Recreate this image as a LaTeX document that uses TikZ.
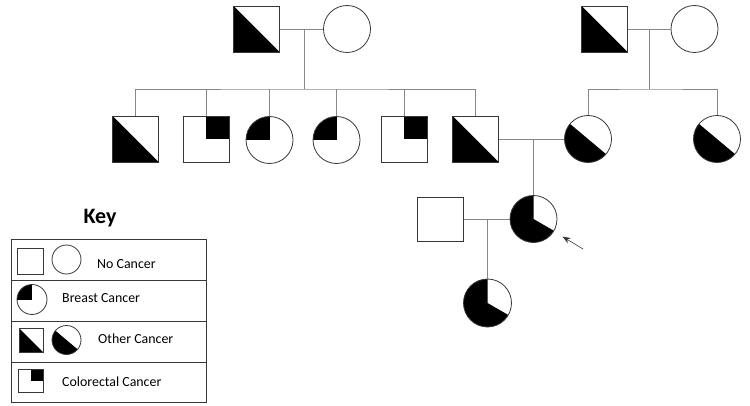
\documentclass[tikz,border=0pt]{standalone}
\usepackage{fontspec}
\setmainfont{Carlito}
\usetikzlibrary{arrows.meta, positioning, calc}
\definecolor{linegray}{RGB}{135,135,135}
\definecolor{edgegray}{RGB}{55,55,55}

\begin{document}
\begin{tikzpicture}[x=1pt, y=1pt,
    sq/.style={draw=edgegray, line width=0.9pt, minimum size=46pt, inner sep=0pt},
    ci/.style={circle, draw=edgegray, line width=0.8pt, minimum size=47pt, inner sep=0pt},
    other/.style={path picture={\fill (path picture bounding box.north west)
        -- (path picture bounding box.south west) -- (path picture bounding box.south east) -- cycle;}},
    colorectal/.style={path picture={\fill (path picture bounding box.center)
        rectangle (path picture bounding box.north east);}},
    breast/.style={path picture={\fill (path picture bounding box.center)
        rectangle (path picture bounding box.north west);}},
    othercirc/.style={path picture={\fill (path picture bounding box.center)
        -- ++(140:40pt) arc[start angle=140, end angle=320, radius=40pt] -- cycle;}},
    mostly/.style={path picture={\fill (path picture bounding box.center)
        -- ++(90:40pt) arc[start angle=90, end angle=330, radius=40pt] -- cycle;}},
    link/.style={draw=linegray, line width=0.8pt},
    keytext/.style={font=\fontsize{13.9}{16}\selectfont, inner sep=0pt, anchor=west}
  ]
  \useasboundingbox (0,0) rectangle (750,405);

  % first generation
  \node[sq, other] (gp1) at (256.5,376) {};
  \node[ci] (gm1) at (347,376) {};
  \node[sq, other] (gp2) at (604.5,376) {};
  \node[ci] (gm2) at (694.5,376) {};

  % second generation
  \node[sq, other] (s1) at (135.5,266) {};
  \node[sq, colorectal] (s2) at (206,266) {};
  \node[ci, breast] (s3) at (269.5,265) {};
  \node[ci, breast] (s4) at (336.5,265) {};
  \node[sq, colorectal] (s5) at (404,266) {};
  \node[sq, other] (s6) at (475.5,266) {};
  \node[ci, othercirc] (m7) at (588,266) {};
  \node[ci, othercirc] (m8) at (717,266) {};

  % third and fourth generation
  \node[sq, minimum height=44pt] (partner) at (440.5,186) {};
  \node[ci, mostly] (pb) at (533.5,186) {};
  \node[ci, mostly, minimum size=48pt] (ch) at (487.5,102) {};
  \coordinate (arrtail) at (583,156);

  \coordinate (sibA) at (304,316);
  \coordinate (sibB) at (649,316);
  \draw[link] (gp1) -- (gm1);
  \draw[link] (sibA |- gp1) -- (sibA);
  \draw[link] (s1.north) |- (sibA) -- (s6 |- sibA) -- (s6.north);
  \foreach \n in {s2,s3,s4,s5}
    \draw[link] (\n.north) -- (\n |- sibA);
  \draw[link] (gp2) -- (gm2);
  \draw[link] (sibB |- gm2) -- (sibB);
  \draw[link] (m7.north) |- (sibB) -- (m8 |- sibB) -- (m8.north);
  \draw[link] (s6) -- (m7);
  \draw[link] (pb.north) -- (pb |- m7);
  \draw[link] (partner) -- (pb);
  \draw[link] (ch.north) -- (ch |- partner);
  \draw[-{Stealth[length=8pt, width=6pt]}, edgegray, line width=0.6pt, shorten >=10pt] (arrtail) -- (pb);

  % key
  \node[font=\fontsize{22}{24}\selectfont\bfseries] (keytitle) at (100,187) {Key};
  \node[draw=edgegray, line width=0.8pt, minimum width=195pt, minimum height=163pt, inner sep=0pt]
    (keybox) at (108.5,84.5) {};
  \foreach \dy in {40.5,-0.5,-41.5}
    \draw[edgegray, line width=0.8pt] (keybox.west) ++(0,\dy) -- ++(195,0);

  \node[sq, minimum size=26pt] (k1sq) at (30.5,144) {};
  \node[ci, minimum size=29pt] (k1ci) at (66.5,145.5) {};
  \node[keytext] (k1txt) at (97,141) {No Cancer};
  \node[ci, breast, minimum size=30pt] (k2ci) at (32,105.5) {};
  \node[keytext] (k2txt) at (62,107) {Breast Cancer};
  \node[sq, other, minimum size=24pt] (k3sq) at (31,65) {};
  \node[ci, othercirc, minimum size=29pt] (k3ci) at (66.5,65) {};
  \node[keytext] (k3txt) at (98,66) {Other Cancer};
  \node[sq, colorectal, minimum width=25pt, minimum height=23pt] (k4sq) at (30.5,24) {};
  \node[keytext] (k4txt) at (62,23) {Colorectal Cancer};
\end{tikzpicture}
\end{document}
